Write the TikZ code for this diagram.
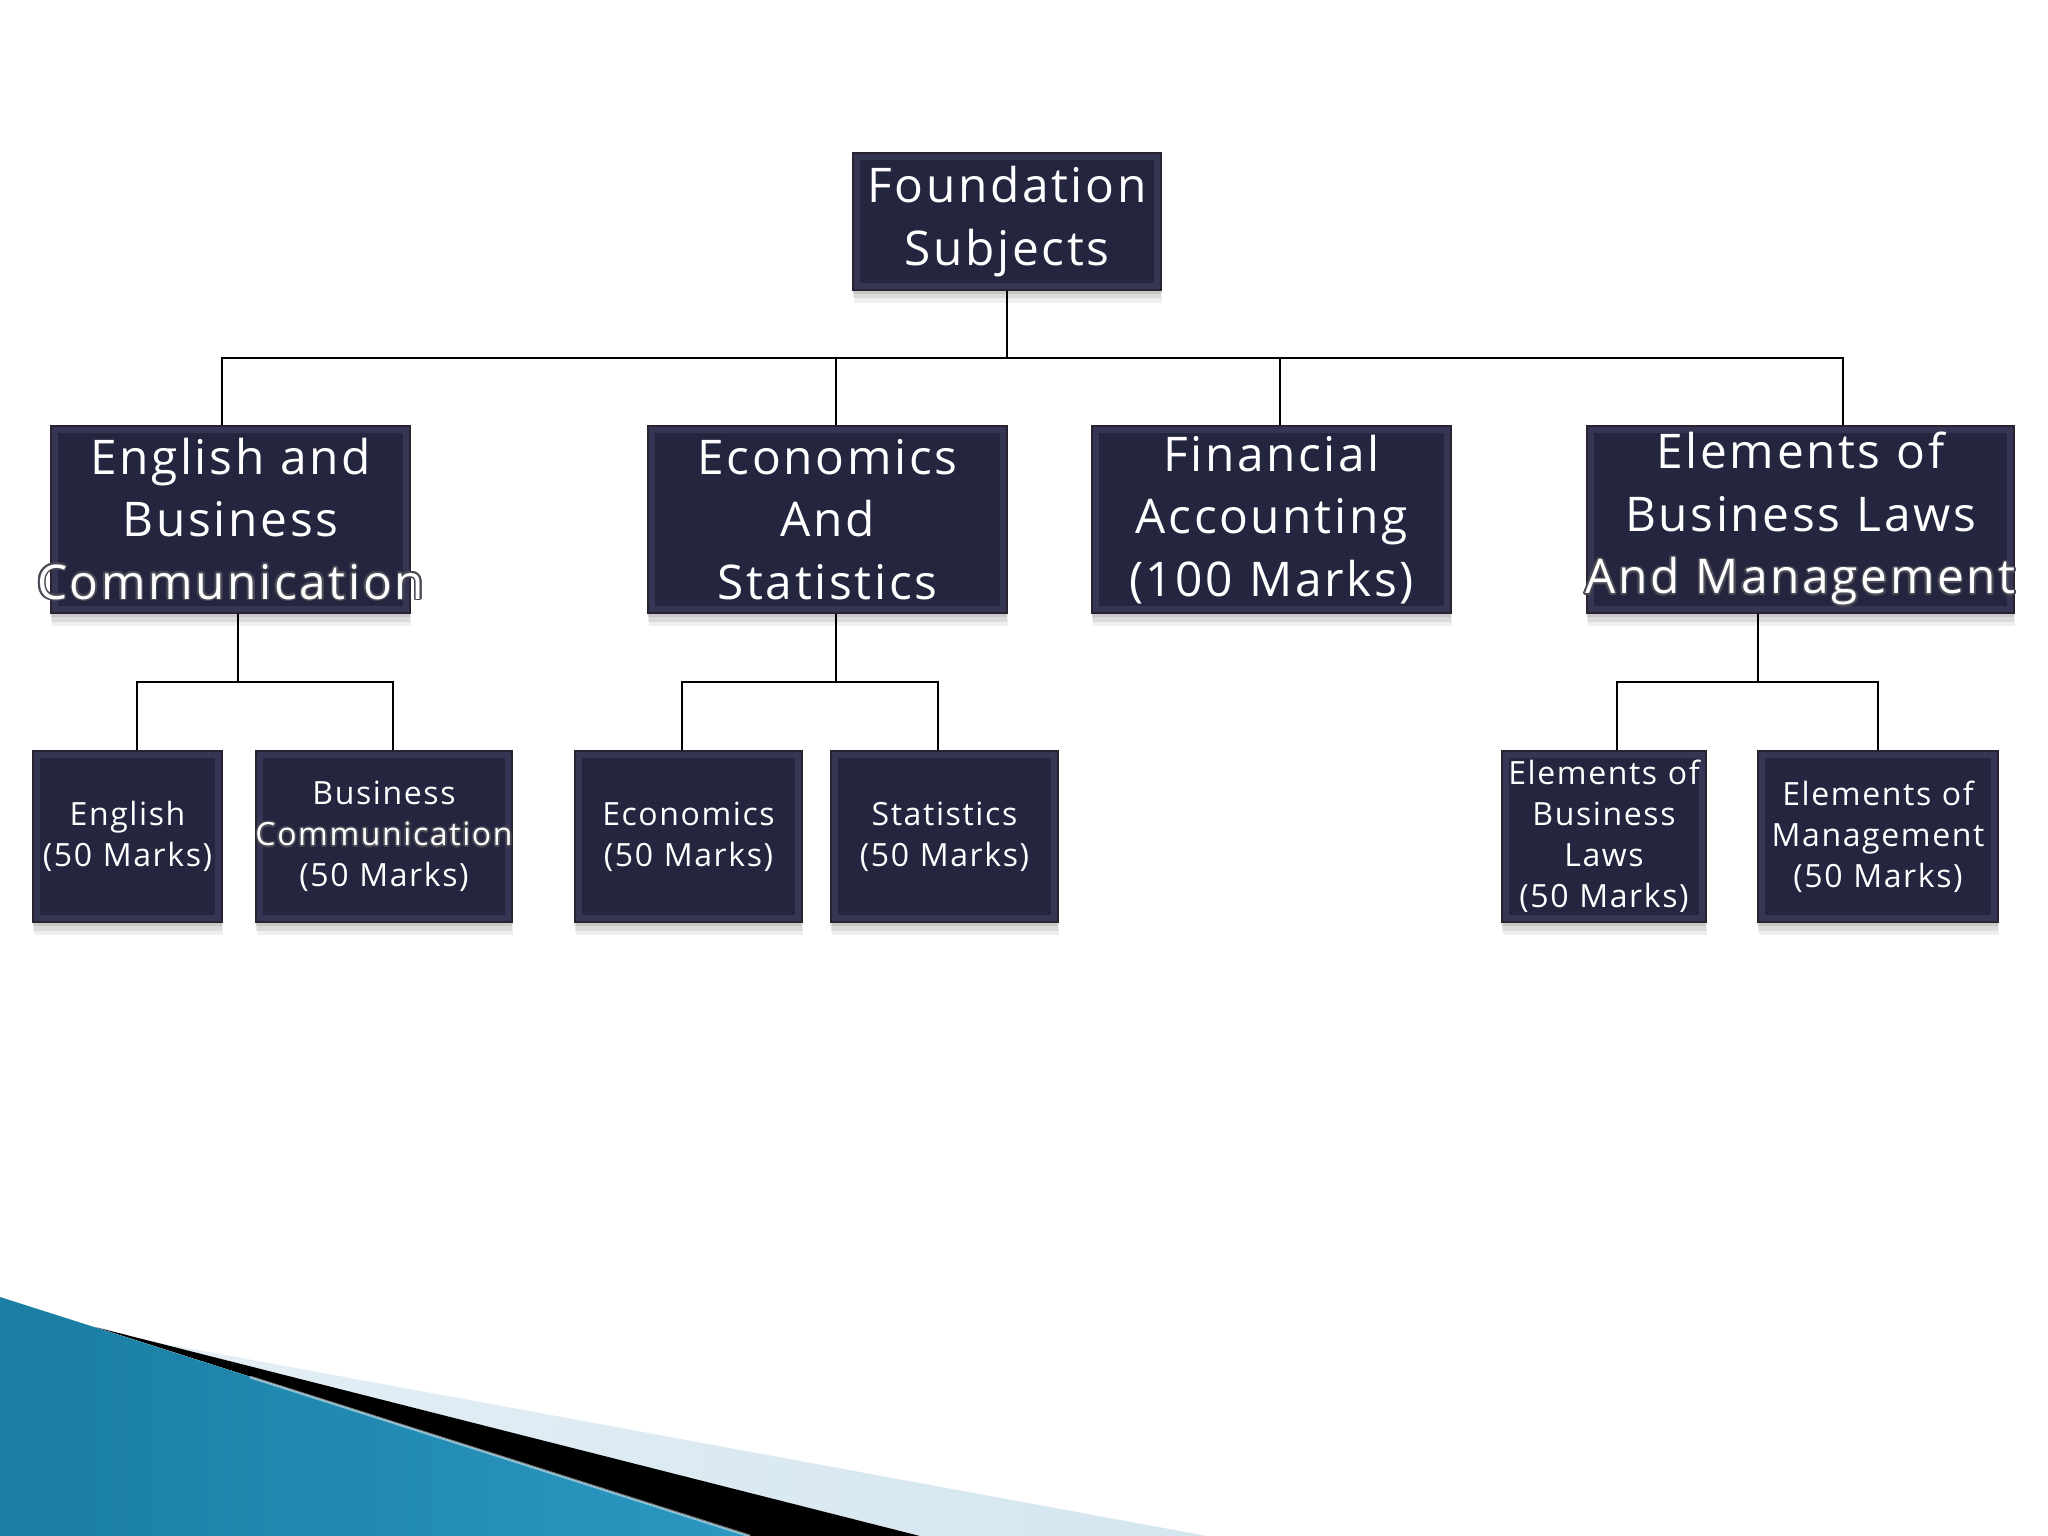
\documentclass[tikz,border=0pt]{standalone}
\usepackage{fontspec}
\usepackage[copies]{contour}
\setmainfont{Open Sans}
\newfontfamily\bigf[LetterSpace=5.5]{Open Sans}
\newfontfamily\smf[LetterSpace=5]{Open Sans}
\usetikzlibrary{calc,shadows}
\definecolor{boxfill}{HTML}{24253E}
\definecolor{boxedge}{HTML}{2A2230}
\definecolor{bevel}{HTML}{3C3E5E}
\definecolor{blueA}{HTML}{1A7DA2}
\definecolor{blueB}{HTML}{66C6E6}
\definecolor{blueC}{HTML}{2B98C2}
\definecolor{lightband}{HTML}{D4E6F0}
\definecolor{lightbandL}{HTML}{E4EFF5}
\definecolor{haloc}{HTML}{4A4A55}
\contourlength{0.45pt}
\contournumber{16}
\newcommand\ov[1]{\makebox[0pt][c]{#1}}
\newcommand\ovh[1]{\makebox[0pt][c]{\contour{haloc}{#1}}}
\tikzset{
  boxbase/.style={rectangle, fill=boxfill, draw=boxedge, line width=0.4pt,
    inner sep=0pt, text=white, align=center,
    general shadow={fill=black!60, opacity=0.10, shadow yshift=-3.6pt, shadow xshift=0.3pt},
    general shadow={fill=black!60, opacity=0.14, shadow yshift=-2.4pt},
    general shadow={fill=black!60, opacity=0.16, shadow yshift=-1.2pt},
    path picture={\draw[bevel, line width=4pt, opacity=0.7]
      (path picture bounding box.south west) rectangle (path picture bounding box.north east);}},
  dims/.style n args={2}{minimum width=#1, minimum height=#2, text width=#1},
  bigbox/.style={boxbase, font=\bigf\fontsize{13.6}{17.8}\selectfont},
  smallbox/.style={boxbase, font=\smf\fontsize{9.1}{11.7}\selectfont},
  link/.style={draw=black, line width=0.6pt}
}
\begin{document}
\begin{tikzpicture}[x=0.01cm, y=-0.01cm]
\useasboundingbox (0,0) rectangle (2048,1536);
\fill[white] (0,0) rectangle (2048,1536);

% bottom-left swoosh
\shade[left color=lightbandL, right color=lightband] (133,1338) -- (1207,1536) -- (920,1536) -- cycle;
\fill[black] (95,1327) -- (920,1536) -- (750,1536) -- cycle;
\shade[left color=blueA, middle color=blueB, right color=blueC] (0,1297) -- (750,1536) -- (0,1536) -- cycle;
\draw[white, opacity=0.45, line width=0.8pt] (250,1377) -- (750,1536);

% level 1
\node[bigbox, dims={3.08cm}{1.37cm}] (top) at (1007,221.5) {\ov{Foundation}\\\ov{Subjects}};

% level 2
\node[bigbox, dims={3.59cm}{1.87cm}] (eng) at (230.5,519.5) {\ov{English and}\\\ov{Business}\\\ovh{Communication}};
\node[bigbox, dims={3.59cm}{1.87cm}] (eco) at (827.5,519.5) {\ov{Economics}\\\ov{And}\\\ov{Statistics}};
\node[bigbox, dims={3.59cm}{1.87cm}] (fin) at (1271.5,519.5) {\ov{Financial}\\\ov{Accounting}\\\ov{(100 Marks)}};
\node[bigbox, dims={4.27cm}{1.87cm}] (ele) at (1800.5,519.5) {\ov{Elements of}\\\ov{Business Laws}\\\ovh{And Management}};

% level 3
\node[smallbox, dims={1.89cm}{1.71cm}] (e1) at (127.5,836.5) {\ov{English}\\\ov{(50 Marks)}};
\node[smallbox, dims={2.56cm}{1.71cm}] (e2) at (384,836.5) {\ov{Business}\\\ovh{Communication}\\\ov{(50 Marks)}};
\node[smallbox, dims={2.27cm}{1.71cm}] (c1) at (688.5,836.5) {\ov{Economics}\\\ov{(50 Marks)}};
\node[smallbox, dims={2.27cm}{1.71cm}] (c2) at (944.5,836.5) {\ov{Statistics}\\\ov{(50 Marks)}};
\node[smallbox, dims={2.04cm}{1.71cm}] (m1) at (1604,836.5) {\ov{Elements of}\\\ov{Business}\\\ov{Laws}\\\ov{(50 Marks)}};
\node[smallbox, dims={2.40cm}{1.71cm}] (m2) at (1878,836.5) {\ov{Elements of}\\\ov{Management}\\\ov{(50 Marks)}};

% connectors
\coordinate (j0) at (1007,358);
\draw[link] (top.south) -- (j0);
\draw[link] ($(eng.north)+(-8.5,0)$) |- (j0);
\draw[link] ($(eco.north)+(8.5,0)$) |- (j0);
\draw[link] ($(fin.north)+(8.5,0)$) |- (j0);
\draw[link] ($(ele.north)+(42.5,0)$) |- (j0);

\coordinate (j1) at (238,682);
\draw[link] ($(eng.south)+(7.5,0)$) -- (j1);
\draw[link] ($(e1.north)+(9.5,0)$) |- (j1);
\draw[link] ($(e2.north)+(9,0)$) |- (j1);

\coordinate (j2) at (836,682);
\draw[link] ($(eco.south)+(8.5,0)$) -- (j2);
\draw[link] ($(c1.north)+(-6.5,0)$) |- (j2);
\draw[link] ($(c2.north)+(-6.5,0)$) |- (j2);

\coordinate (j3) at (1758,682);
\draw[link] ($(ele.south)+(-42.5,0)$) -- (j3);
\draw[link] ($(m1.north)+(13,0)$) |- (j3);
\draw[link] (m2.north) |- (j3);
\end{tikzpicture}
\end{document}
